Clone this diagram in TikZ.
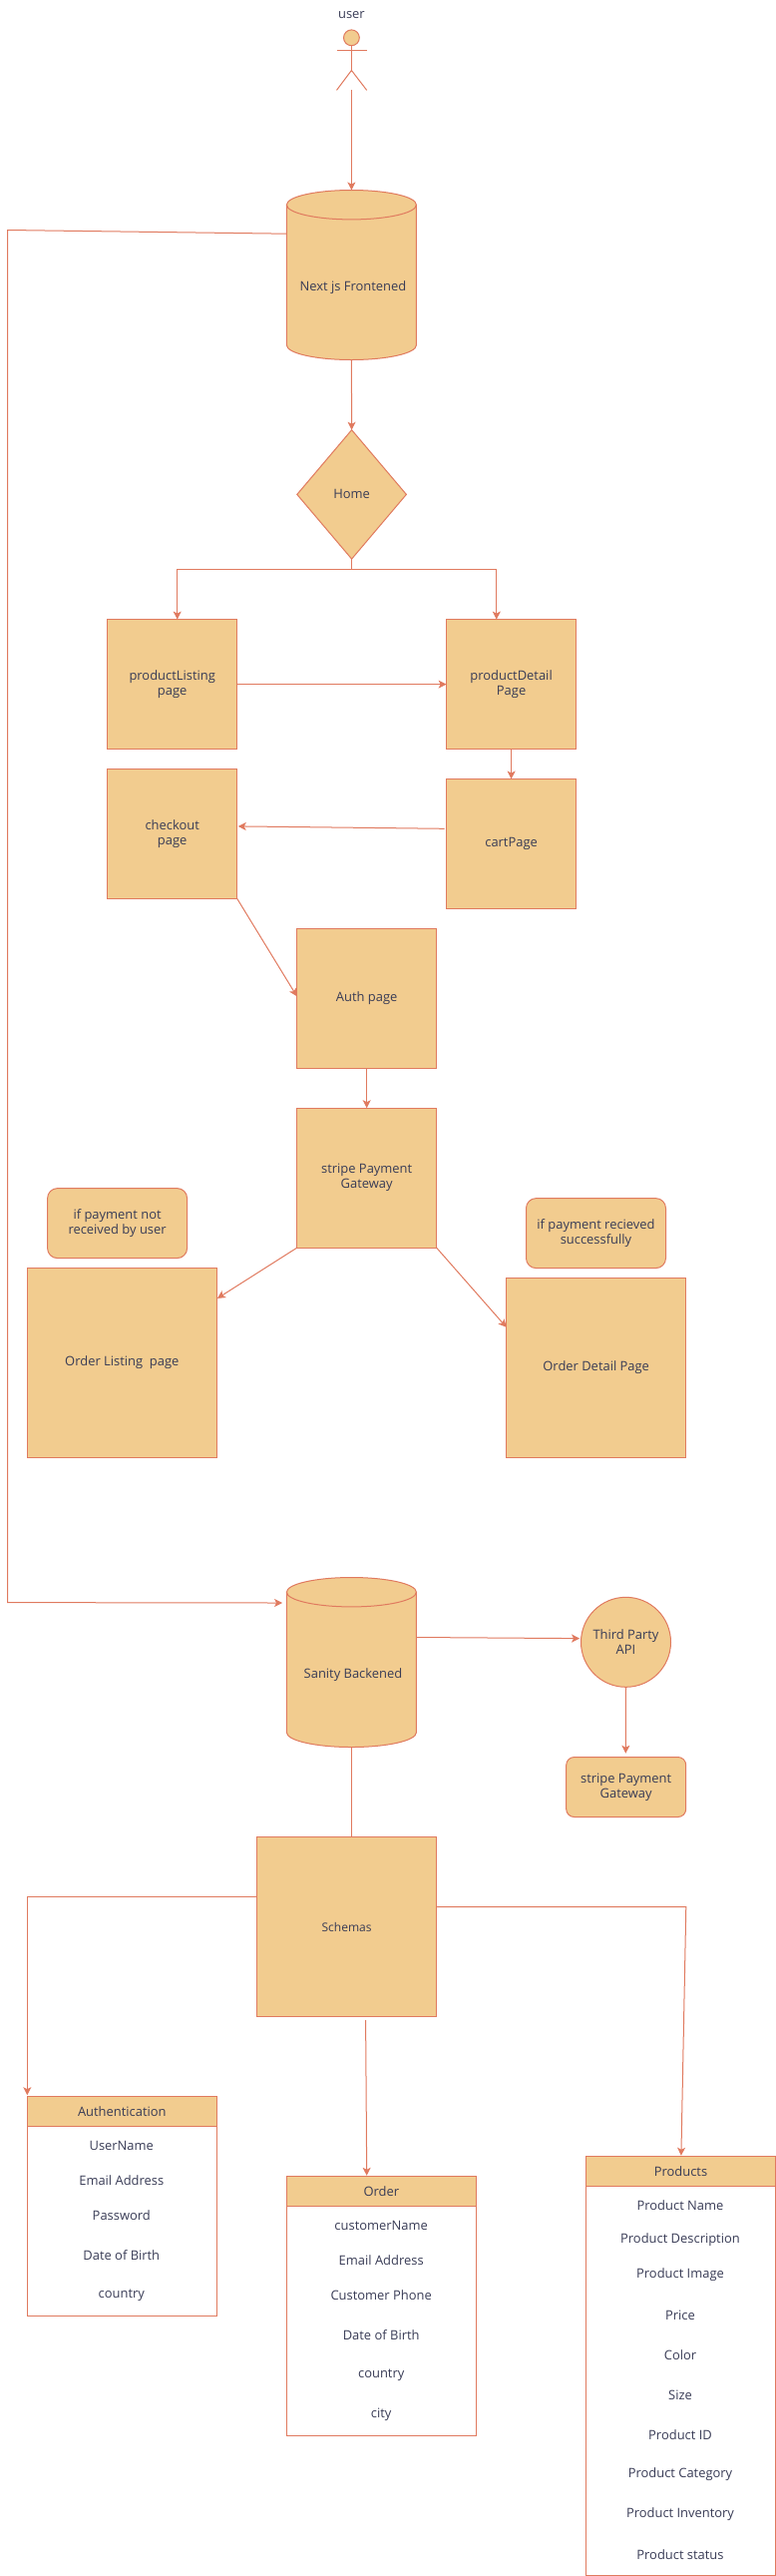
\documentclass[tikz,border=0pt]{standalone}
\usepackage{fontspec}
\setmainfont{Open Sans}
\usetikzlibrary{arrows.meta,shapes.geometric}
\definecolor{sand}{HTML}{F2CC8F}
\definecolor{rust}{HTML}{E07A5F}
\definecolor{ink}{HTML}{393C56}
\newcommand{\px}{0.75pt}
\tikzset{
  txt/.style={text=ink,font=\fontsize{9.7}{11.25}\selectfont,align=center,inner sep=0pt},
  box/.style 2 args={txt,draw=rust,fill=sand,line width=\px,outer sep=0pt,minimum width=#1*\px,minimum height=#2*\px},
  note/.style 2 args={box={#1}{#2},rounded corners=7.5pt},
  dbase/.style={outer sep=0pt,inner sep=0pt,minimum width=130*\px,minimum height=170*\px},
  blank/.style 2 args={draw=rust,line width=\px,outer sep=0pt,minimum width=#1*\px,minimum height=#2*\px},
  line/.style={draw=rust,line width=\px},
  arr/.style={line,-{Stealth[length=6pt,width=6pt,inset=1.5pt]}}
}
\begin{document}
\begin{tikzpicture}[x=0.75pt,y=-0.75pt]
\useasboundingbox (0,0) rectangle (778,2581);

% user
\node[txt] (userlabel) at (352.4,15) {user};
\node[circle,draw=rust,fill=sand,line width=\px,minimum size=15.8*\px,inner sep=0pt,outer sep=0pt] (head) at (352.4,37.8) {};
\coordinate (hip) at (352.4,70.5);
\coordinate (armL) at (337.5,50.6);
\coordinate (armR) at (367.7,50.6);
\coordinate (footL) at (337.5,90.4);
\coordinate (footR) at (367.7,90.4);
\coordinate (userfeet) at (352.4,90.4);
\draw[line] (head.south) -- (hip);
\draw[line] (armL) -- (armR);
\draw[line] (footL) -- (hip) -- (footR);

% the two databases
\node[dbase] (front) at (352.4,275.5) {};
\node[dbase] (sanity) at (352.4,1665.5) {};
\foreach \Db in {front,sanity}{
  \draw[line,fill=sand] ([yshift=-14.7*\px]\Db.north west)
    arc[start angle=180,end angle=360,x radius=65,y radius=14.7]
    -- ([yshift=14.7*\px]\Db.south east)
    arc[start angle=0,end angle=180,x radius=65,y radius=14.7]
    -- cycle;
  \draw[line] ([yshift=-14.7*\px]\Db.north west)
    arc[start angle=180,end angle=0,x radius=65,y radius=14.7];
}
\node[txt] (frontlabel) at (354,287.7) {Next js Frontened};
\node[txt] (sanitylabel) at (354,1677.7) {Sanity Backened};

% frontend pages
\node[diamond,box={109.6}{129.3},inner sep=0pt,aspect=0.85] (home) at (352.6,495.4) {Home};
\coordinate (fork) at (352.6,570.5);
\node[box={130}{130}] (plist) at (172.7,685.6) {productListing\\page};
\node[box={130}{130}] (pdetail) at (512.6,685.6) {productDetail\\Page};
\node[box={130}{130}] (checkout) at (172.7,835.3) {checkout\\page};
\node[box={130}{130}] (cart) at (512.6,845.5) {cartPage};
\node[box={140}{140}] (authpage) at (367.7,1000.3) {Auth page};
\node[box={140}{140}] (stripe) at (367.7,1180.2) {stripe Payment\\Gateway};
\node[note={140}{70}] (notefail) at (117.6,1225.6) {if payment not\\received by user};
\node[note={140}{70}] (noteok) at (597.5,1235.6) {if payment recieved\\successfully};
\node[box={190}{190}] (olist) at (122.3,1365.5) {Order Listing\ \ page};
\node[box={180}{180}] (odetail) at (597.7,1370.5) {Order Detail Page};

\draw[arr] (userfeet) -- (front.north);
\draw[arr] (front.south) -- (home.north);
\draw[line] (home.south) -- (fork);
\draw[arr] (fork) -| ([xshift=5*\px]plist.north);
\draw[arr] (fork) -| ([xshift=-14.8*\px]pdetail.north);
\draw[arr] (plist.east) -- (pdetail.west);
\draw[arr] (pdetail.south) -- (cart.north);
\draw[arr] ([shift={(-1.9,-15.2)}]cart.west) -- ([shift={(1,-7.4)}]checkout.east);
\draw[arr] (checkout.south east) -- ([yshift=2*\px]authpage.west);
\draw[arr] (authpage.south) -- (stripe.north);
\draw[arr] (stripe.south west) -- ([shift={(0.6,30.4)}]olist.north east);
\draw[arr] (stripe.south east) -- ([shift={(0,49.3)}]odetail.north west);

% backend
\node[circle,box={90}{90}] (third) at (627.5,1645.3) {Third Party\\API};
\node[note={120}{60},rounded corners=6pt] (stripeapi) at (627.7,1790.5) {stripe Payment\\Gateway};
\node[box={180}{180},font=\fontsize{9}{11.25}\selectfont] (schemas) at (347.6,1930.5) {Schemas};
\coordinate (busL) at (7.5,230.5);
\coordinate (busB) at (7.5,1605.6);
\draw[arr] ([yshift=41.3*\px]front.west) -- (busL) -- (busB) -- ([shift={(-4.3,-59.5)}]sanity.west);
\draw[arr] ([yshift=25*\px]sanity.east) -- ([shift={(-1.4,-3.7)}]third.west);
\draw[arr] (third.south) -- ([shift={(-0.4,-3.7)}]stripeapi.north);
\draw[line] (sanity.south) -- (sanity.south |- schemas.north);

% schema tables
\node[box={190}{30}] (authhead) at (122.3,2115.4) {Authentication};
\node[blank={190}{190}] (authbody) at (122.3,2225.3) {};
\foreach \Row/\Y [count=\i] in {UserName/2149.6, Email Address/2184.6, Password/2219.6, Date of Birth/2259.5, country/2299.7}{
  \node[txt] (authrow\i) at (121.8,\Y) {\Row};
}
\node[box={190}{30}] (orderhead) at (382.3,2195.6) {Order};
\node[blank={190}{230}] (orderbody) at (382.3,2325.6) {};
\foreach \Row/\Y [count=\i] in {customerName/2229.7, Email Address/2264.7, Customer Phone/2299.7, Date of Birth/2339.5, country/2379.8, city/2419.6}{
  \node[txt] (orderrow\i) at (382.2,\Y) {\Row};
}
\node[box={190}{30}] (prodhead) at (682.5,2175.5) {Products};
\node[blank={190}{390}] (prodbody) at (682.5,2385.4) {};
\foreach \Row/\Y [count=\i] in {Product Name/2209.6, Product Description/2244.6, Product Image/2279.6, Price/2319.4, Color/2359.7, Size/2399.5, Product ID/2439.7, Product Category/2479.6, Product Inventory/2519.4, Product status/2559.7}{
  \node[txt] (prodrow\i) at (682,\Y) {\Row};
}
\coordinate (corner) at (687.8,1910.7);
\draw[arr] ([yshift=30.2*\px]schemas.west) -| ([yshift=1.2*\px]authhead.north west);
\draw[arr] ([yshift=19.8*\px]schemas.east) -- (corner) -- ([shift={(0.4,-0.8)}]prodhead.north);
\draw[arr] ([shift={(19,3.6)}]schemas.south) -- ([shift={(-14.6,-0.8)}]orderhead.north);
\end{tikzpicture}
\end{document}
